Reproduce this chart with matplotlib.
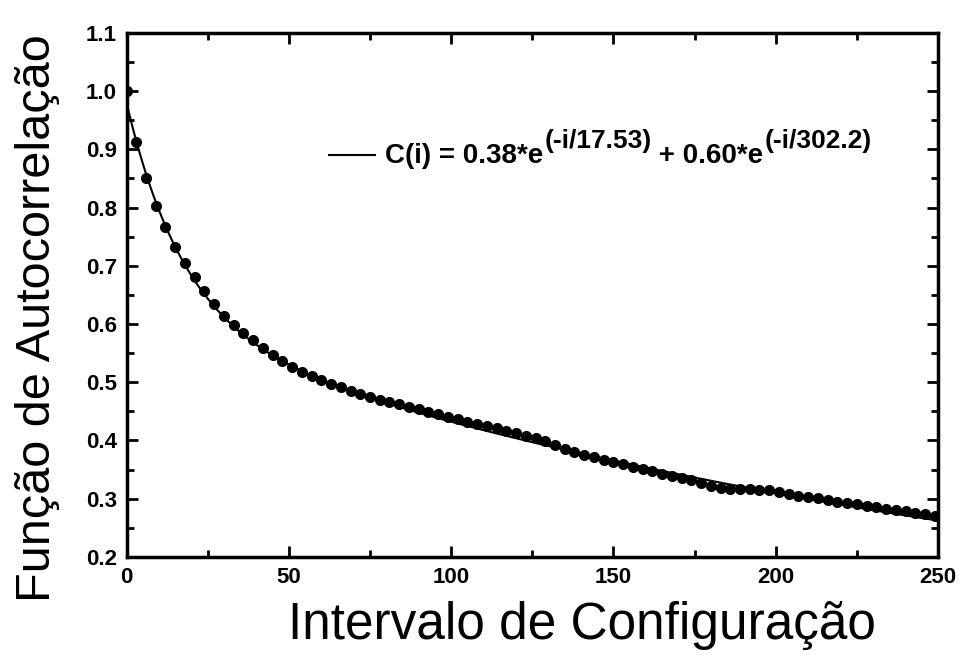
import matplotlib
matplotlib.use("Agg")
import matplotlib.pyplot as plt
from matplotlib.ticker import MultipleLocator, FormatStrFormatter
import numpy as np

# autocorrelation sampled every 3 configurations
lag = np.arange(0, 250, 3)
corr = [
    1.000, 0.913, 0.851, 0.803, 0.766, 0.733, 0.705, 0.680, 0.656, 0.634,
    0.614, 0.598, 0.585, 0.572, 0.558, 0.547, 0.536, 0.526, 0.517, 0.510,
    0.503, 0.497, 0.491, 0.485, 0.479, 0.474, 0.470, 0.466, 0.462, 0.458,
    0.454, 0.449, 0.445, 0.441, 0.436, 0.432, 0.429, 0.425, 0.421, 0.417,
    0.412, 0.408, 0.404, 0.399, 0.393, 0.386, 0.380, 0.375, 0.371, 0.367,
    0.363, 0.359, 0.355, 0.351, 0.347, 0.343, 0.339, 0.336, 0.332, 0.327,
    0.321, 0.318, 0.317, 0.317, 0.316, 0.315, 0.314, 0.311, 0.308, 0.305,
    0.303, 0.301, 0.298, 0.295, 0.293, 0.290, 0.288, 0.286, 0.283, 0.281,
    0.278, 0.276, 0.273, 0.270,
]

# double-exponential fit parameters (from legend)
a1, tau1 = 0.38, 17.53
a2, tau2 = 0.60, 302.2

plt.rcParams["font.family"] = "Liberation Sans"

fig = plt.figure(figsize=(9.66, 6.59), dpi=100)
ax = fig.add_axes([0.131, 0.155, 0.840, 0.795])

i_fit = np.linspace(0, 250, 500)
c_fit = a1 * np.exp(-i_fit / tau1) + a2 * np.exp(-i_fit / tau2)
ax.plot(i_fit, c_fit, color="black", lw=1.5)
ax.plot(lag, corr, "o", color="black", ms=8, mew=0)

ax.set_xlim(0, 250)
ax.set_ylim(0.2, 1.1)
ax.xaxis.set_major_locator(MultipleLocator(50))
ax.xaxis.set_minor_locator(MultipleLocator(25))
ax.yaxis.set_major_locator(MultipleLocator(0.1))
ax.yaxis.set_minor_locator(MultipleLocator(0.05))
ax.yaxis.set_major_formatter(FormatStrFormatter("%.1f"))

ax.tick_params(which="both", direction="in", top=True, right=True, width=2)
ax.tick_params(which="major", length=8, labelsize=16, pad=7)
ax.tick_params(which="minor", length=5)
for lbl in ax.get_xticklabels() + ax.get_yticklabels():
    lbl.set_fontweight("bold")
for sp in ax.spines.values():
    sp.set_linewidth(2.5)

ax.set_xlabel("Intervalo de Configuração", fontsize=37)
ax.set_ylabel("Função de Autocorrelação", fontsize=35)
ax.xaxis.set_label_coords(0.561, -0.085)
ax.yaxis.set_label_coords(-0.082, 0.455)

# legend: short line + formula with full-size raised exponents
ax.plot([0.250, 0.306], [0.767, 0.767], color="black", lw=1.5,
        transform=ax.transAxes)
fs = 20
t = ax.text(0.318, 0.765, f"C(i) = {a1:.2f}*e", transform=ax.transAxes,
            va="center", ha="left", fontsize=fs, fontweight="bold")
for base, exp in [("", f"(-i/{tau1})"), (f" + {a2:.2f}*e", f"(-i/{tau2})")]:
    if base:
        t = ax.annotate(base, xy=(1, 0.5), xycoords=t, xytext=(0, -11),
                        textcoords="offset points", va="center", ha="left",
                        fontsize=fs, fontweight="bold")
    t = ax.annotate(exp, xy=(1, 0.5), xycoords=t, xytext=(1, 11),
                    textcoords="offset points", va="center", ha="left",
                    fontsize=fs - 1, fontweight="bold")

fig.savefig("out.png", dpi=100)
